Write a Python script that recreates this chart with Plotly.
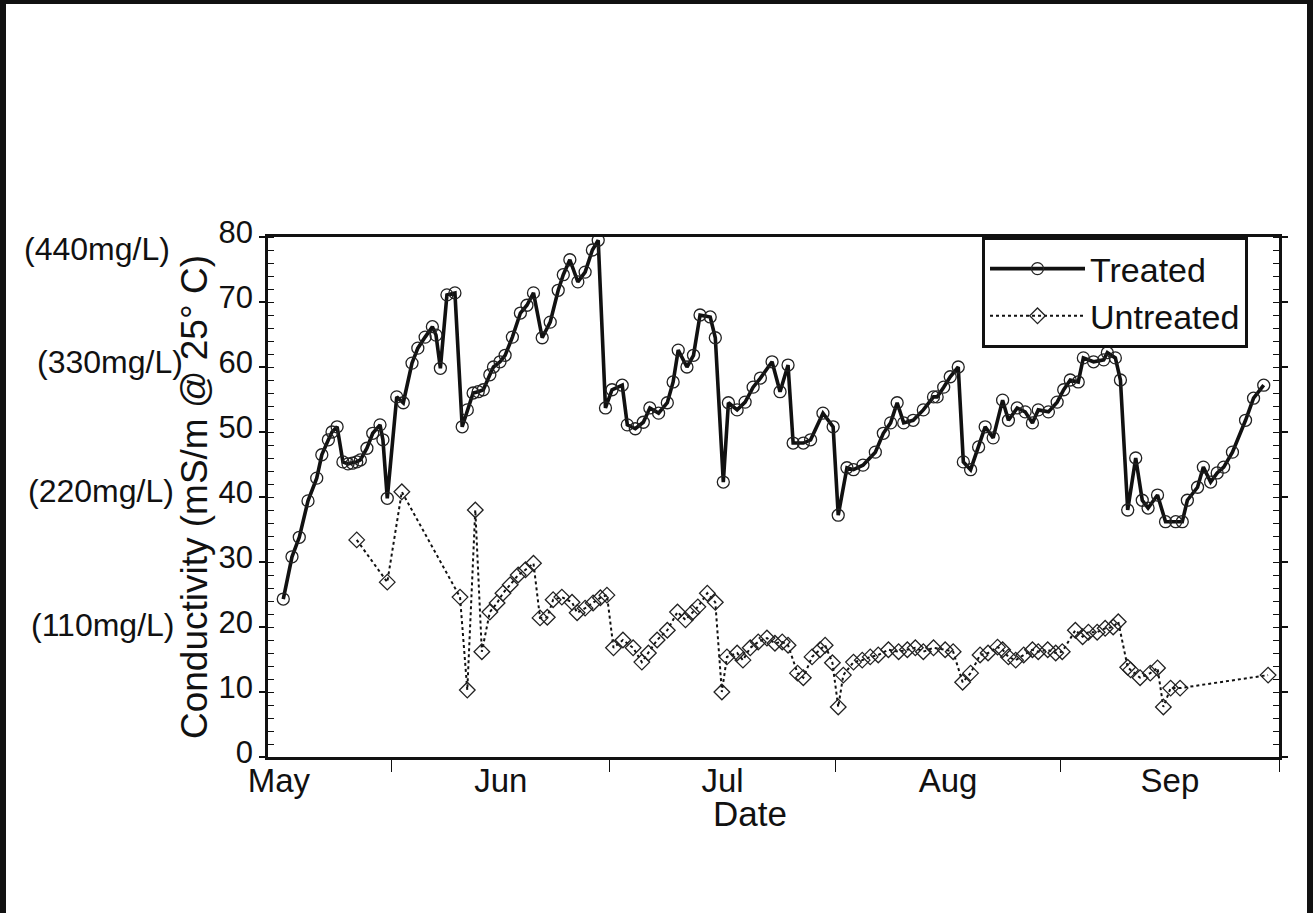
import plotly.graph_objects as go
import pandas as pd

BASE = pd.Timestamp("1995-05-01")

treated_day = [16.1, 17.3, 18.3, 19.5, 20.7, 21.4, 22.3, 22.8, 23.5, 24.3, 25.0, 25.6, 26.2, 26.7,
               27.6, 28.4, 29.4, 29.8, 30.4, 31.7, 32.6, 33.8, 34.6, 35.6, 36.6, 37.1, 37.7, 38.6,
               39.7, 40.7, 41.4, 42.2, 42.9, 43.6, 44.5, 45.0, 45.9, 46.6, 47.6, 48.7, 49.6, 50.5,
               51.7, 52.8, 53.9, 54.6, 55.5, 56.6, 57.6, 58.6, 59.4, 60.4, 61.3, 62.7, 63.4, 64.5,
               65.6, 66.5, 67.7, 68.9, 69.7, 70.4, 71.6, 72.5, 73.4, 74.8, 75.5, 76.6, 77.3, 78.5,
               79.6, 80.7, 81.7, 83.3, 84.4, 85.5, 86.2, 87.6, 88.6, 90.3, 91.7, 92.4, 93.6, 94.5,
               95.8, 97.5, 98.6, 99.6, 100.5, 101.4, 102.7, 104.1, 105.5, 106.0, 106.9, 107.8,
               108.9, 109.6, 110.6, 111.7, 112.6, 113.7, 115.0, 115.8, 117.0, 118.1, 119.1, 119.9,
               121.3, 122.5, 123.4, 124.3, 125.4, 126.1, 127.5, 128.9, 129.4, 130.5, 131.2, 132.2,
               133.3, 134.2, 135.0, 136.3, 137.4, 138.8, 139.7, 140.4, 141.8, 142.6, 143.6, 144.5,
               145.4, 146.6, 148.4, 149.5, 150.9]
treated_value = [24.3, 30.8, 33.8, 39.4, 42.9, 46.5, 48.8, 50.0, 50.8, 45.4, 45.1, 45.2, 45.4, 45.7,
                 47.5, 49.8, 51.1, 48.8, 39.8, 55.4, 54.5, 60.6, 62.9, 64.6, 66.2, 64.9, 59.8, 71.1,
                 71.4, 50.8, 53.4, 56.0, 56.2, 56.5, 58.8, 60.0, 60.8, 61.8, 64.6, 68.3, 69.5, 71.4,
                 64.5, 66.9, 71.8, 74.2, 76.5, 73.1, 74.6, 78.0, 79.5, 53.7, 56.5, 57.2, 51.1, 50.5,
                 51.5, 53.7, 52.9, 54.5, 57.7, 62.6, 60.0, 61.8, 68.0, 67.7, 64.5, 42.3, 54.5, 53.4,
                 54.6, 56.9, 58.3, 60.8, 56.2, 60.3, 48.3, 48.3, 48.8, 52.9, 50.8, 37.2, 44.5, 44.2,
                 44.9, 46.9, 49.8, 51.4, 54.5, 51.4, 51.8, 53.4, 55.4, 55.4, 56.9, 58.5,
                 60.0, 45.4, 44.2, 47.7, 50.8, 49.1, 54.9, 51.8, 53.7, 53.1, 51.4, 53.4,
                 53.1, 54.6, 56.5, 58.0, 57.7, 61.4, 60.8, 61.1, 62.2, 61.4, 58.0, 38.0,
                 46.0, 39.5, 38.3, 40.3, 36.2, 36.2, 36.2, 39.5, 41.5, 44.6, 42.3, 43.7,
                 44.6, 46.9, 51.8, 55.2, 57.2]

untreated_day = [26.2, 30.4, 32.4, 40.4, 41.4, 42.5, 43.4, 44.5, 45.5, 46.3, 47.3, 48.4, 49.4, 50.5,
                 51.4, 52.4, 53.2, 54.4, 55.8, 56.5, 57.6, 58.7, 59.7, 60.6, 61.5, 62.8, 64.2, 65.4,
                 66.3, 67.5, 68.9, 70.3, 71.4, 72.3, 73.1, 74.4, 75.5, 76.4, 77.1, 78.5, 79.3, 80.3,
                 81.4, 82.6, 83.7, 84.7, 85.5, 86.8, 87.6, 88.8, 89.9, 90.6, 91.6, 92.4, 93.1, 94.5,
                 95.7, 96.8, 97.9, 99.3, 100.7, 101.9, 103.0, 104.1, 105.5, 107.1, 108.2, 109.5,
                 110.6, 111.9, 113.0, 114.3, 115.0, 115.8, 116.8, 117.9, 119.1, 119.9, 121.2, 122.3,
                 123.2, 125.0, 126.0, 126.8, 128.0, 129.1, 130.2, 130.9, 132.2, 132.6, 133.9, 135.3,
                 136.3, 137.1, 138.1, 139.4, 151.5]
untreated_value = [33.4, 26.9, 40.8, 24.6, 10.3, 38.0, 16.2, 22.3, 23.7, 25.2, 26.5, 28.0, 28.8, 29.8,
                   21.4, 21.5, 24.2, 24.6, 23.8, 22.2, 22.9, 23.7, 24.5, 24.9, 16.8, 18.0, 16.8, 14.6,
                   16.0, 18.0, 19.5, 22.3, 21.1, 22.2, 23.1, 25.2, 23.8, 10.0, 15.4, 16.0, 14.9, 16.8,
                   17.7, 18.3, 17.5, 17.7, 17.2, 12.9, 12.2, 15.4, 16.5, 17.2, 14.5, 7.7, 12.6, 14.6,
                   14.9, 15.4, 15.7, 16.5, 16.2, 16.5, 16.8, 16.2, 16.8, 16.5, 16.2, 11.5,
                   12.9, 15.7, 16.0, 16.9, 16.5, 15.4, 14.9, 15.7, 16.5, 16.2, 16.5, 16.0,
                   16.2, 19.5, 18.5, 19.2, 19.2, 19.8, 20.0, 20.8, 13.8, 13.4, 12.2, 12.9,
                   13.7, 7.7, 10.6, 10.6, 12.6]

# Secondary (TDS) labels on the left of the conductivity axis
tds_labels = ["(440mg/L)", "(330mg/L)", "(220mg/L)", "(110mg/L)"]
tds_at = [80, 60, 40, 20]

x_start_day = 14     # 15 May
x_end_day = 153      # 1 Oct


def to_dates(days):
    return [BASE + pd.Timedelta(days=d) for d in days]


FONT = "Liberation Sans, Arial, Helvetica, sans-serif"
INK = "#111111"

fig = go.Figure()
fig.add_trace(go.Scatter(
    x=to_dates(treated_day), y=treated_value, mode="lines+markers", name="Treated",
    line=dict(color=INK, width=3.6),
    marker=dict(symbol="circle-open", size=12, color="#222222", line=dict(width=1.3)),
))
fig.add_trace(go.Scatter(
    x=to_dates(untreated_day), y=untreated_value, mode="lines+markers", name="Untreated",
    line=dict(color=INK, width=2, dash="dot"),
    marker=dict(symbol="diamond-open", size=12, color="#222222", line=dict(width=1.3)),
))

W, H = 1314, 913
L, R, T, B = 268, 35, 237, 156
pw, ph = W - L - R, H - T - B


def px_x(px):
    return (px - L) / pw


def px_y(py):
    return (H - B - py) / ph


fig.update_layout(
    width=W, height=H,
    margin=dict(l=L, r=R, t=T, b=B, autoexpand=False),
    paper_bgcolor="white", plot_bgcolor="white",
    font=dict(family=FONT, size=31, color=INK),
    legend=dict(x=px_x(982), y=1.0, xanchor="left", yanchor="top",
                bordercolor=INK, borderwidth=3, bgcolor="white",
                font=dict(size=34, color=INK), itemwidth=95),
    xaxis=dict(
        type="date",
        range=to_dates([x_start_day, x_end_day]),
        tick0="1995-05-01", dtick="M1", ticklabelmode="period", tickformat="%b",
        ticks="outside", ticklen=12, tickwidth=1, tickcolor=INK,
        ticklabelstandoff=-20, tickfont=dict(size=33),
        showline=True, linecolor=INK, linewidth=3, mirror=True,
        showgrid=False, zeroline=False,
    ),
    yaxis=dict(
        range=[0, 80], dtick=10,
        ticks="outside", ticklen=6, tickwidth=2, tickcolor=INK,
        ticklabelshift=-5,
        minor=dict(dtick=2, ticks="inside", ticklen=6, tickcolor=INK, tickwidth=1),
        showline=True, linecolor=INK, linewidth=2.5, mirror="ticks",
        showgrid=False, zeroline=False,
        title=dict(text="Conductivity (mS/m @ 25° C)", font=dict(size=37), standoff=0),
    ),
)

# x-axis title placed as in the original (slightly left of centre)
fig.add_annotation(text="Date", xref="paper", yref="paper", x=px_x(750), y=px_y(813),
                   xanchor="center", yanchor="middle", showarrow=False,
                   font=dict(size=35, color=INK))

tds_right = [172, 185, 176, 176]
tds_shift = [-12, 5, 6, 2]
for lab, v, rx, sh in zip(tds_labels, tds_at, tds_right, tds_shift):
    fig.add_annotation(text=lab, xref="paper", yref="y", x=px_x(rx), y=v, yshift=sh,
                       xanchor="right", yanchor="middle", showarrow=False,
                       font=dict(size=32, color=INK))

# page frame of the scanned figure
fig.add_shape(type="rect", xref="paper", yref="paper",
              x0=px_x(3), x1=px_x(1310), y0=px_y(980), y1=px_y(1),
              line=dict(color=INK, width=6), fillcolor="rgba(0,0,0,0)", layer="above")

fig.write_html("out.html", config={"displayModeBar": False},
               post_script="document.body.style.margin='0px';")
